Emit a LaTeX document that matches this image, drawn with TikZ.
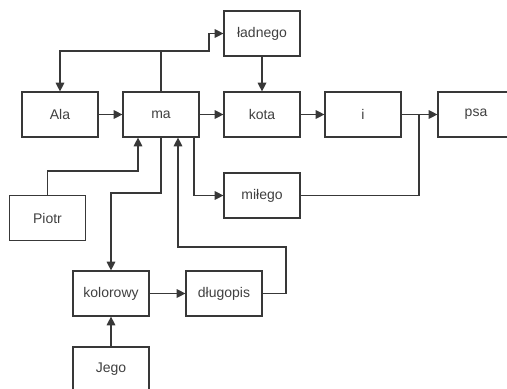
\documentclass[tikz,border=0pt]{standalone}
\usepackage{fontspec}
\setmainfont{Liberation Sans}
\usetikzlibrary{arrows.meta}
\begin{document}
\begin{tikzpicture}[x=0.75pt,y=-0.75pt]
\tikzstyle{word}=[draw=black!78, fill=white, line width=0.9pt, minimum width=57pt, minimum height=33.75pt, inner sep=0pt, text=black!75, font=\fontsize{10.5}{12}\selectfont]
\tikzstyle{link}=[draw=black!78, line width=0.9pt]
\tikzstyle{every path}+=[-{Triangle[length=6.5pt,width=6.5pt]}]
\useasboundingbox (0,0) rectangle (507,389);
\clip (0,0) rectangle (507,389);
\node [word] (Ala) at (60,114.5) {Ala};
\node [word] (ma) at (161,114.5) {ma};
\node [word] (kota) at (262,114.5) {kota};
\node [word] (i) at (363,114.5) {i};
\node [word] (psa) at (476,114.5) {psa};
\node [word] (ladnego) at (262,33.5) {ładnego};
\node [word] (milego) at (262,195.5) {miłego};
\node [word] (Piotr) at (47.5,218) {Piotr};
\node [word] (kolorowy) at (111,293.5) {kolorowy};
\node [word] (dlugopis) at (224,293.5) {długopis};
\node [word] (Jego) at (111,369.5) {Jego};
% bends
\coordinate (top) at (161,51);
\coordinate (topr) at (209,51);
\coordinate (pio) at (138,171);
\coordinate (kol) at (161,193);
\coordinate (mil) at (194,195.5);
\coordinate (dl1) at (286,247);
\coordinate (dl2) at (178,247);
\coordinate (join) at (419,114.5);
% main line
\draw [link] (Ala) -- (ma);
\draw [link] (ma) -- (kota);
\draw [link] (kota) -- (i);
\draw [link,-] (i.east) -- (join);
\draw [link] (join) -- (psa);
\draw [link,-] (milego.east) -| (join);
% above ma
\draw [link,-] (ma.north) -- (top);
\draw [link] (top) -| (Ala.north);
\draw [link] (top) -- (topr) |- (ladnego.west);
\draw [link] (ladnego) -- (kota);
% below ma
\draw [link] (Piotr.north) |- (pio) -- (pio |- ma.south);
\draw [link] (ma.south) -- (kol) -| (kolorowy.north);
\draw [link] (mil |- ma.south) -- (mil) -- (milego.west);
\draw [link] (dlugopis.east) -| (dl1) -- (dl2) -- (dl2 |- ma.south);
\draw [link] (kolorowy) -- (dlugopis);
\draw [link] (Jego) -- (kolorowy);
\end{tikzpicture}
\end{document}
